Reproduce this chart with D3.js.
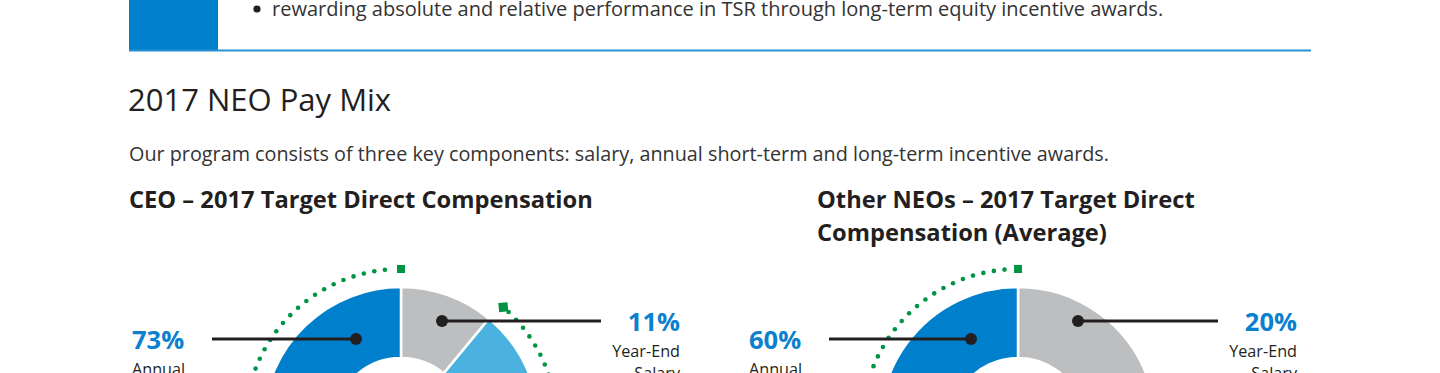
<!DOCTYPE html>
<html>
<head>
<meta charset="utf-8">
<script src="https://cdn.jsdelivr.net/npm/d3@7"></script>
<style>
    html, body { margin: 0; padding: 0; background: #fff; overflow: hidden; }
    svg { display: block; font-family: 'Open Sans', 'Noto Sans', sans-serif; }
</style>
</head>
<body>
<svg id="chart" width="1440" height="373"></svg>
<script>
// pay mix data (percent of target direct compensation)
const components = ['Year-End Salary', 'Annual Short-Term Incentive', 'Annual Long-Term Incentive'];
const ceoValues = [11, 16, 73];
const neoValues = [20, 20, 60];
const componentColors = ['#bcbec0', '#4bb1e1', '#0080cc'];

const bulletText = 'rewarding absolute and relative performance in TSR through long-term equity incentive awards.';
const pageTitle = '2017 NEO Pay Mix';
const introText = 'Our program consists of three key components: salary, annual short-term and long-term incentive awards.';
const ceoTitle = ['CEO – 2017 Target Direct Compensation'];
const neoTitle = ['Other NEOs – 2017 Target Direct', 'Compensation (Average)'];

// callout labels: which slice, and which text lines
const ceoCallouts = [
    { slice: 2, side: 'left', pct: '73%', lines: ['Annual', 'Long-Term'] },
    { slice: 0, side: 'right', pct: '11%', lines: ['Year-End', 'Salary'] }
];
const neoCallouts = [
    { slice: 2, side: 'left', pct: '60%', lines: ['Annual', 'Long-Term'] },
    { slice: 0, side: 'right', pct: '20%', lines: ['Year-End', 'Salary'] }
];

const svg = d3.select('#chart');
const blue = '#0080cc';
const green = '#009444';
const ink = '#231f20';

// header box + rule
svg.append('rect')
    .attr('x', 129).attr('y', -10)
    .attr('width', 89).attr('height', 60)
    .attr('fill', blue);
svg.append('line')
    .attr('x1', 129).attr('x2', 1311)
    .attr('y1', 50.5).attr('y2', 50.5)
    .attr('stroke', '#2a8fd3')
    .attr('stroke-width', 2);
svg.append('circle')
    .attr('cx', 257).attr('cy', 9).attr('r', 3.6)
    .attr('fill', '#231f20');
svg.append('text')
    .attr('x', 272).attr('y', 16)
    .attr('font-size', 20)
    .attr('fill', '#333')
    .text(bulletText);

svg.append('text')
    .attr('x', 128).attr('y', 111)
    .attr('font-size', 31)
    .attr('fill', '#231f20')
    .text(pageTitle);
svg.append('text')
    .attr('x', 129).attr('y', 161)
    .attr('font-size', 19.8)
    .attr('fill', '#333')
    .text(introText);

function drawTitle(x, lines) {
    svg.append('text')
        .attr('font-size', 23.7)
        .attr('font-weight', 700)
        .attr('fill', '#231f20')
        .selectAll('tspan')
        .data(lines)
        .join('tspan')
        .attr('x', x)
        .attr('y', (d, i) => 208 + i * 33)
        .text((d) => d);
}
drawTitle(129, ceoTitle);
drawTitle(817, neoTitle);

// donut
const outerR = 138;
const innerR = 67;
const ringR = 156;
const dotGap = 10.7;

function drawDonut(cx, cy, values, callouts, dots) {
    const g = svg.append('g').attr('transform', `translate(${cx},${cy})`);
    const pie = d3.pie().sort(null).value((d) => d)
        .startAngle(0).endAngle(2 * Math.PI);
    const arcs = pie(values);
    const arc = d3.arc().innerRadius(innerR).outerRadius(outerR);

    g.selectAll('.slice')
        .data(arcs)
        .join('path')
        .attr('class', 'slice')
        .attr('d', arc)
        .attr('fill', (d, i) => componentColors[i])
        .attr('stroke', '#fff')
        .attr('stroke-width', 2.5);

    // performance based ring: from end of salary slice round to the top
    const start = arcs[0].endAngle;
    const end = 2 * Math.PI;
    const pt = (a) => [Math.sin(a) * ringR, -Math.cos(a) * ringR];
    const step = dotGap / ringR;
    const dotAngles = d3.range(start + 0.07, end - 0.04, step);
    g.selectAll('.ring-dot')
        .data(dotAngles)
        .join('circle')
        .attr('class', 'ring-dot')
        .attr('cx', (a) => pt(a)[0])
        .attr('cy', (a) => pt(a)[1])
        .attr('r', 2.3)
        .attr('fill', green);
    const [dx, dy] = pt(start + 0.024);
    g.append('rect')
        .attr('x', -4.6).attr('y', -4.6)
        .attr('width', 9.2).attr('height', 9.2)
        .attr('fill', green)
        .attr('transform', `translate(${dx},${dy}) rotate(${start * 180 / Math.PI + 45})`);
    const [sx, sy] = pt(end);
    g.append('rect')
        .attr('x', sx - 4).attr('y', sy - 4)
        .attr('width', 8).attr('height', 8)
        .attr('fill', green);

    // callouts
    callouts.forEach((c, i) => {
        const p = dots[i];
        const left = c.side === 'left';
        const lineEnd = left ? -189 : 200;
        const labelX = left ? -269 : 279;
        g.append('line')
            .attr('x1', p[0]).attr('x2', lineEnd)
            .attr('y1', p[1]).attr('y2', p[1])
            .attr('stroke', ink)
            .attr('stroke-width', 3);
        g.append('circle')
            .attr('cx', p[0]).attr('cy', p[1]).attr('r', 6)
            .attr('fill', ink);
        const anchor = left ? 'start' : 'end';
        g.append('text')
            .attr('x', labelX).attr('y', p[1] + 10)
            .attr('text-anchor', anchor)
            .attr('font-size', 25.5)
            .attr('font-weight', 700)
            .attr('fill', '#0a80cf')
            .text(c.pct);
        g.append('text')
            .attr('text-anchor', anchor)
            .attr('font-size', 16.2)
            .attr('fill', ink)
            .selectAll('tspan')
            .data(c.lines)
            .join('tspan')
            .attr('x', labelX)
            .attr('y', (d, j) => p[1] + 36 + j * 22)
            .text((d) => d);
    });
}

drawDonut(401, 425, ceoValues, ceoCallouts, [[-45, -86], [41, -104]]);
drawDonut(1018, 425, neoValues, neoCallouts, [[-47, -86], [60, -104]]);
</script>
</body>
</html>
